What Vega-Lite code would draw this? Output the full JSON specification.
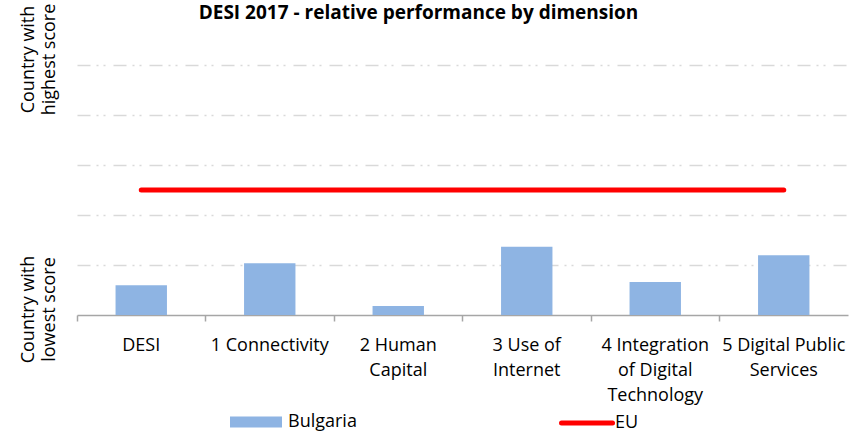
{
  "$schema": "https://vega.github.io/schema/vega-lite/v6.json",
  "width": 771,
  "height": 300,
  "autosize": {"type": "none"},
  "padding": {"left": 77, "top": 15, "right": 10, "bottom": 118},
  "config": {
    "font": "Open Sans",
    "view": {"stroke": null},
    "axis": {"labelColor": "black", "labelFont": "Open Sans"},
    "legend": {"labelColor": "black", "labelFont": "Open Sans"}
  },
  "title": {
    "text": "DESI 2017 - relative performance by dimension",
    "font": "Open Sans",
    "fontSize": 19,
    "fontWeight": "bold",
    "color": "black",
    "anchor": "middle",
    "dx": -44,
    "dy": 24
  },
  "data": {
    "values": [
      {"dimension": "DESI", "Bulgaria": 0.119, "EU": 0.5},
      {"dimension": "1 Connectivity", "Bulgaria": 0.207, "EU": 0.5},
      {"dimension": "2 Human Capital", "Bulgaria": 0.036, "EU": 0.5},
      {"dimension": "3 Use of Internet", "Bulgaria": 0.273, "EU": 0.5},
      {"dimension": "4 Integration of Digital Technology", "Bulgaria": 0.132, "EU": 0.5},
      {"dimension": "5 Digital Public Services", "Bulgaria": 0.239, "EU": 0.5}
    ]
  },
  "encoding": {
    "x": {
      "field": "dimension",
      "type": "nominal",
      "sort": null,
      "scale": {"paddingInner": 0, "paddingOuter": 0},
      "axis": {
        "title": null,
        "labelAngle": 0,
        "labelAlign": "center",
        "labelBaseline": "top",
        "labelFontSize": 18,
        "labelLineHeight": 25,
        "labelPadding": 15,
        "labelOverlap": false,
        "labelLimit": 0,
        "labelBound": false,
        "bandPosition": 0,
        "tickSize": 6,
        "tickWidth": 1.5,
        "tickColor": "#A6A6A6",
        "domainColor": "#A6A6A6",
        "domainWidth": 1.5,
        "grid": false,
        "labelExpr": "datum.value == '2 Human Capital' ? ['2 Human', 'Capital'] : datum.value == '3 Use of Internet' ? ['3 Use of', 'Internet'] : datum.value == '4 Integration of Digital Technology' ? ['4 Integration', 'of Digital', 'Technology'] : datum.value == '5 Digital Public Services' ? ['5 Digital Public', 'Services'] : datum.value"
      }
    }
  },
  "layer": [
    {
      "mark": {"type": "bar", "width": {"band": 0.4}},
      "encoding": {
        "y": {
          "field": "Bulgaria",
          "type": "quantitative",
          "scale": {"domain": [0, 1.2], "nice": false, "zero": true},
          "axis": {
            "title": null,
            "values": [0, 0.2, 0.4, 0.6, 0.8, 1.0],
            "domain": false,
            "ticks": false,
            "grid": true,
            "gridColor": "#D9D9D9",
            "gridWidth": 1.5,
            "gridDash": [13, 6, 2, 5, 2, 8],
            "gridOpacity": {"condition": {"test": "datum.value == 0", "value": 0}, "value": 1},
            "labelAngle": 270,
            "labelAlign": "center",
            "labelBaseline": "bottom",
            "labelFontSize": 18,
            "labelLineHeight": 21,
            "labelPadding": 40,
            "labelOffset": -6,
            "labelBound": false,
            "labelOverlap": false,
            "labelLimit": 0,
            "labelExpr": "datum.value == 0 ? ['Country with', 'lowest score'] : datum.value == 1 ? ['Country with', 'highest score'] : ''"
          }
        },
        "fill": {
          "datum": "Bulgaria",
          "scale": {"range": ["#8EB4E3"]},
          "legend": {
            "title": null,
            "orient": "none",
            "legendX": 153,
            "legendY": 381,
            "symbolType": "M-1,-0.21H1V0.21H-1Z",
            "symbolSize": 2704,
            "symbolStrokeWidth": 0,
            "labelFontSize": 18,
            "labelOffset": 6
          }
        }
      }
    },
    {
      "mark": {"type": "line", "strokeWidth": 5, "strokeCap": "round"},
      "encoding": {
        "y": {"field": "EU", "type": "quantitative"},
        "stroke": {
          "datum": "EU",
          "scale": {"range": ["#FF0000"]},
          "legend": {
            "title": null,
            "orient": "none",
            "legendX": 482,
            "legendY": 380,
            "symbolType": "stroke",
            "symbolSize": 2601,
            "symbolStrokeWidth": 5,
            "labelFontSize": 18,
            "labelOffset": 0,
            "encode": {"symbols": {"update": {"strokeCap": {"value": "round"}}}}
          }
        }
      }
    }
  ]
}
